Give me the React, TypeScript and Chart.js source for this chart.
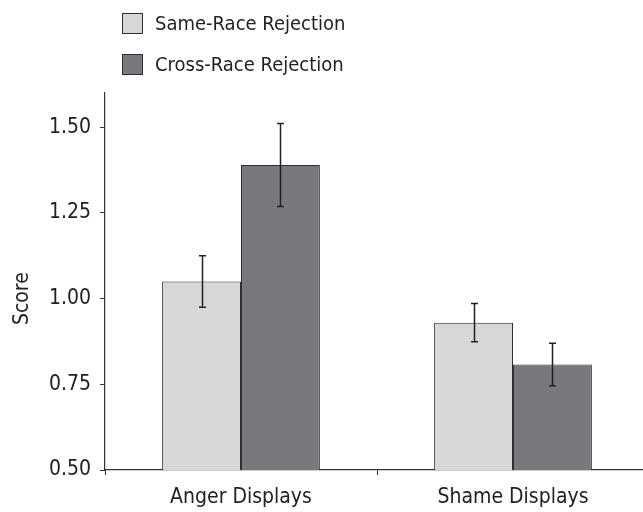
import React, { useEffect, useRef } from "react";
import { Chart, registerables } from "chart.js";

Chart.register(...registerables);

const categories = ["Anger Displays", "Shame Displays"];
const seriesNames = ["Same-Race Rejection", "Cross-Race Rejection"];
const sameRace = [1.05, 0.93];
const sameRaceErr = [0.075, 0.056];
const crossRace = [1.39, 0.808];
const crossRaceErr = [0.121, 0.062];
const yTicks = [0.5, 0.75, 1.0, 1.25, 1.5];
const yMin = 0.5;
const yMax = 1.6;
const yTitle = "Score";

const FONT = "'DejaVu Sans Condensed', 'Liberation Sans Narrow', 'Arial Narrow', sans-serif";
const fills = ["#d6d7d9", "#78797d"];
const edge = "#2e2e2e";

const errorBarPlugin = {
  id: "errorBars",
  afterDatasetsDraw(chart: any) {
    const ctx = chart.ctx;
    const y = chart.scales.y;
    const errs = [sameRaceErr, crossRaceErr];
    chart.data.datasets.forEach((ds: any, di: number) => {
      const meta = chart.getDatasetMeta(di);
      meta.data.forEach((bar: any, i: number) => {
        const v = ds.data[i];
        const e = errs[di][i];
        const top = y.getPixelForValue(v + e);
        const bot = y.getPixelForValue(v - e);
        const x = Math.round(bar.x) + 0.5;
        ctx.save();
        ctx.strokeStyle = "#222";
        ctx.lineWidth = 1.5;
        ctx.beginPath();
        ctx.moveTo(x, top);
        ctx.lineTo(x, bot);
        ctx.moveTo(x - 3.5, top);
        ctx.lineTo(x + 3.5, top);
        ctx.moveTo(x - 3.5, bot);
        ctx.lineTo(x + 3.5, bot);
        ctx.stroke();
        ctx.restore();
      });
    });
  },
};

const yTitlePlugin = {
  id: "yTitle",
  afterDraw(chart: any) {
    const ctx = chart.ctx;
    const y = chart.scales.y;
    ctx.save();
    ctx.translate(23, y.getPixelForValue(1.0));
    ctx.rotate(-Math.PI / 2);
    ctx.font = `21px ${FONT}`;
    ctx.fillStyle = "#222";
    ctx.textAlign = "center";
    ctx.textBaseline = "middle";
    ctx.fillText(yTitle, 0, 0);
    ctx.restore();
  },
};

export default function App() {
  const ref = useRef<HTMLCanvasElement | null>(null);

  useEffect(() => {
    document.body.style.margin = "0";
    const canvas = ref.current!;
    const chart = new Chart(canvas, {
      type: "bar",
      data: {
        labels: categories,
        datasets: [
          {
            label: seriesNames[0],
            data: sameRace,
            backgroundColor: fills[0],
            borderColor: edge,
            borderWidth: 1,
            borderSkipped: false,
          },
          {
            label: seriesNames[1],
            data: crossRace,
            backgroundColor: fills[1],
            borderColor: edge,
            borderWidth: 1,
            borderSkipped: false,
          },
        ],
      },
      options: {
        responsive: false,
        animation: false,
        devicePixelRatio: 1,
        layout: { padding: { top: 93, right: 1, left: 0, bottom: 0 } },
        plugins: {
          legend: { display: false },
          tooltip: { enabled: false },
        },
        datasets: {
          bar: { categoryPercentage: 0.58, barPercentage: 1 },
        },
        scales: {
          x: {
            offset: true,
            grid: {
              offset: true,
              drawOnChartArea: false,
              drawTicks: true,
              tickLength: 5,
              color: "#333",
            },
            border: { display: true, color: "#333", width: 1.2 },
            ticks: {
              color: "#222",
              font: { family: FONT, size: 21 },
              padding: 10,
            },
            afterFit(scale: any) {
              scale.height = 42;
            },
          },
          y: {
            min: yMin,
            max: yMax,
            grid: {
              drawOnChartArea: false,
              drawTicks: true,
              tickLength: 5,
              color: "#333",
            },
            border: { display: true, color: "#333", width: 1.2 },
            ticks: {
              color: "#222",
              font: { family: FONT, size: 21 },
              padding: 9,
              callback: (v: any) => Number(v).toFixed(2),
            },
            afterBuildTicks(scale: any) {
              scale.ticks = yTicks.map((v) => ({ value: v }));
            },
            afterFit(scale: any) {
              scale.width = 105;
            },
          },
        },
      },
      plugins: [errorBarPlugin, yTitlePlugin],
    });
    return () => chart.destroy();
  }, []);

  const legendRow = (i: number, top: number) => (
    <div
      key={i}
      style={{
        position: "absolute",
        left: 122,
        top,
        height: 22,
        display: "flex",
        alignItems: "center",
        fontFamily: FONT,
        fontSize: 20,
        color: "#222",
        whiteSpace: "nowrap",
      }}
    >
      <div
        style={{
          width: 19,
          height: 19,
          background: fills[i],
          border: `1px solid ${edge}`,
          marginRight: 12,
        }}
      />
      <span>{seriesNames[i]}</span>
    </div>
  );

  return (
    <div
      style={{
        position: "absolute",
        left: 0,
        top: 0,
        width: 643,
        height: 512,
        overflow: "hidden",
        background: "#fff",
      }}
    >
      <canvas ref={ref} width={650} height={512} style={{ width: 650, height: 512, display: "block" }} />
      {legendRow(0, 12)}
      {legendRow(1, 53)}
    </div>
  );
}
